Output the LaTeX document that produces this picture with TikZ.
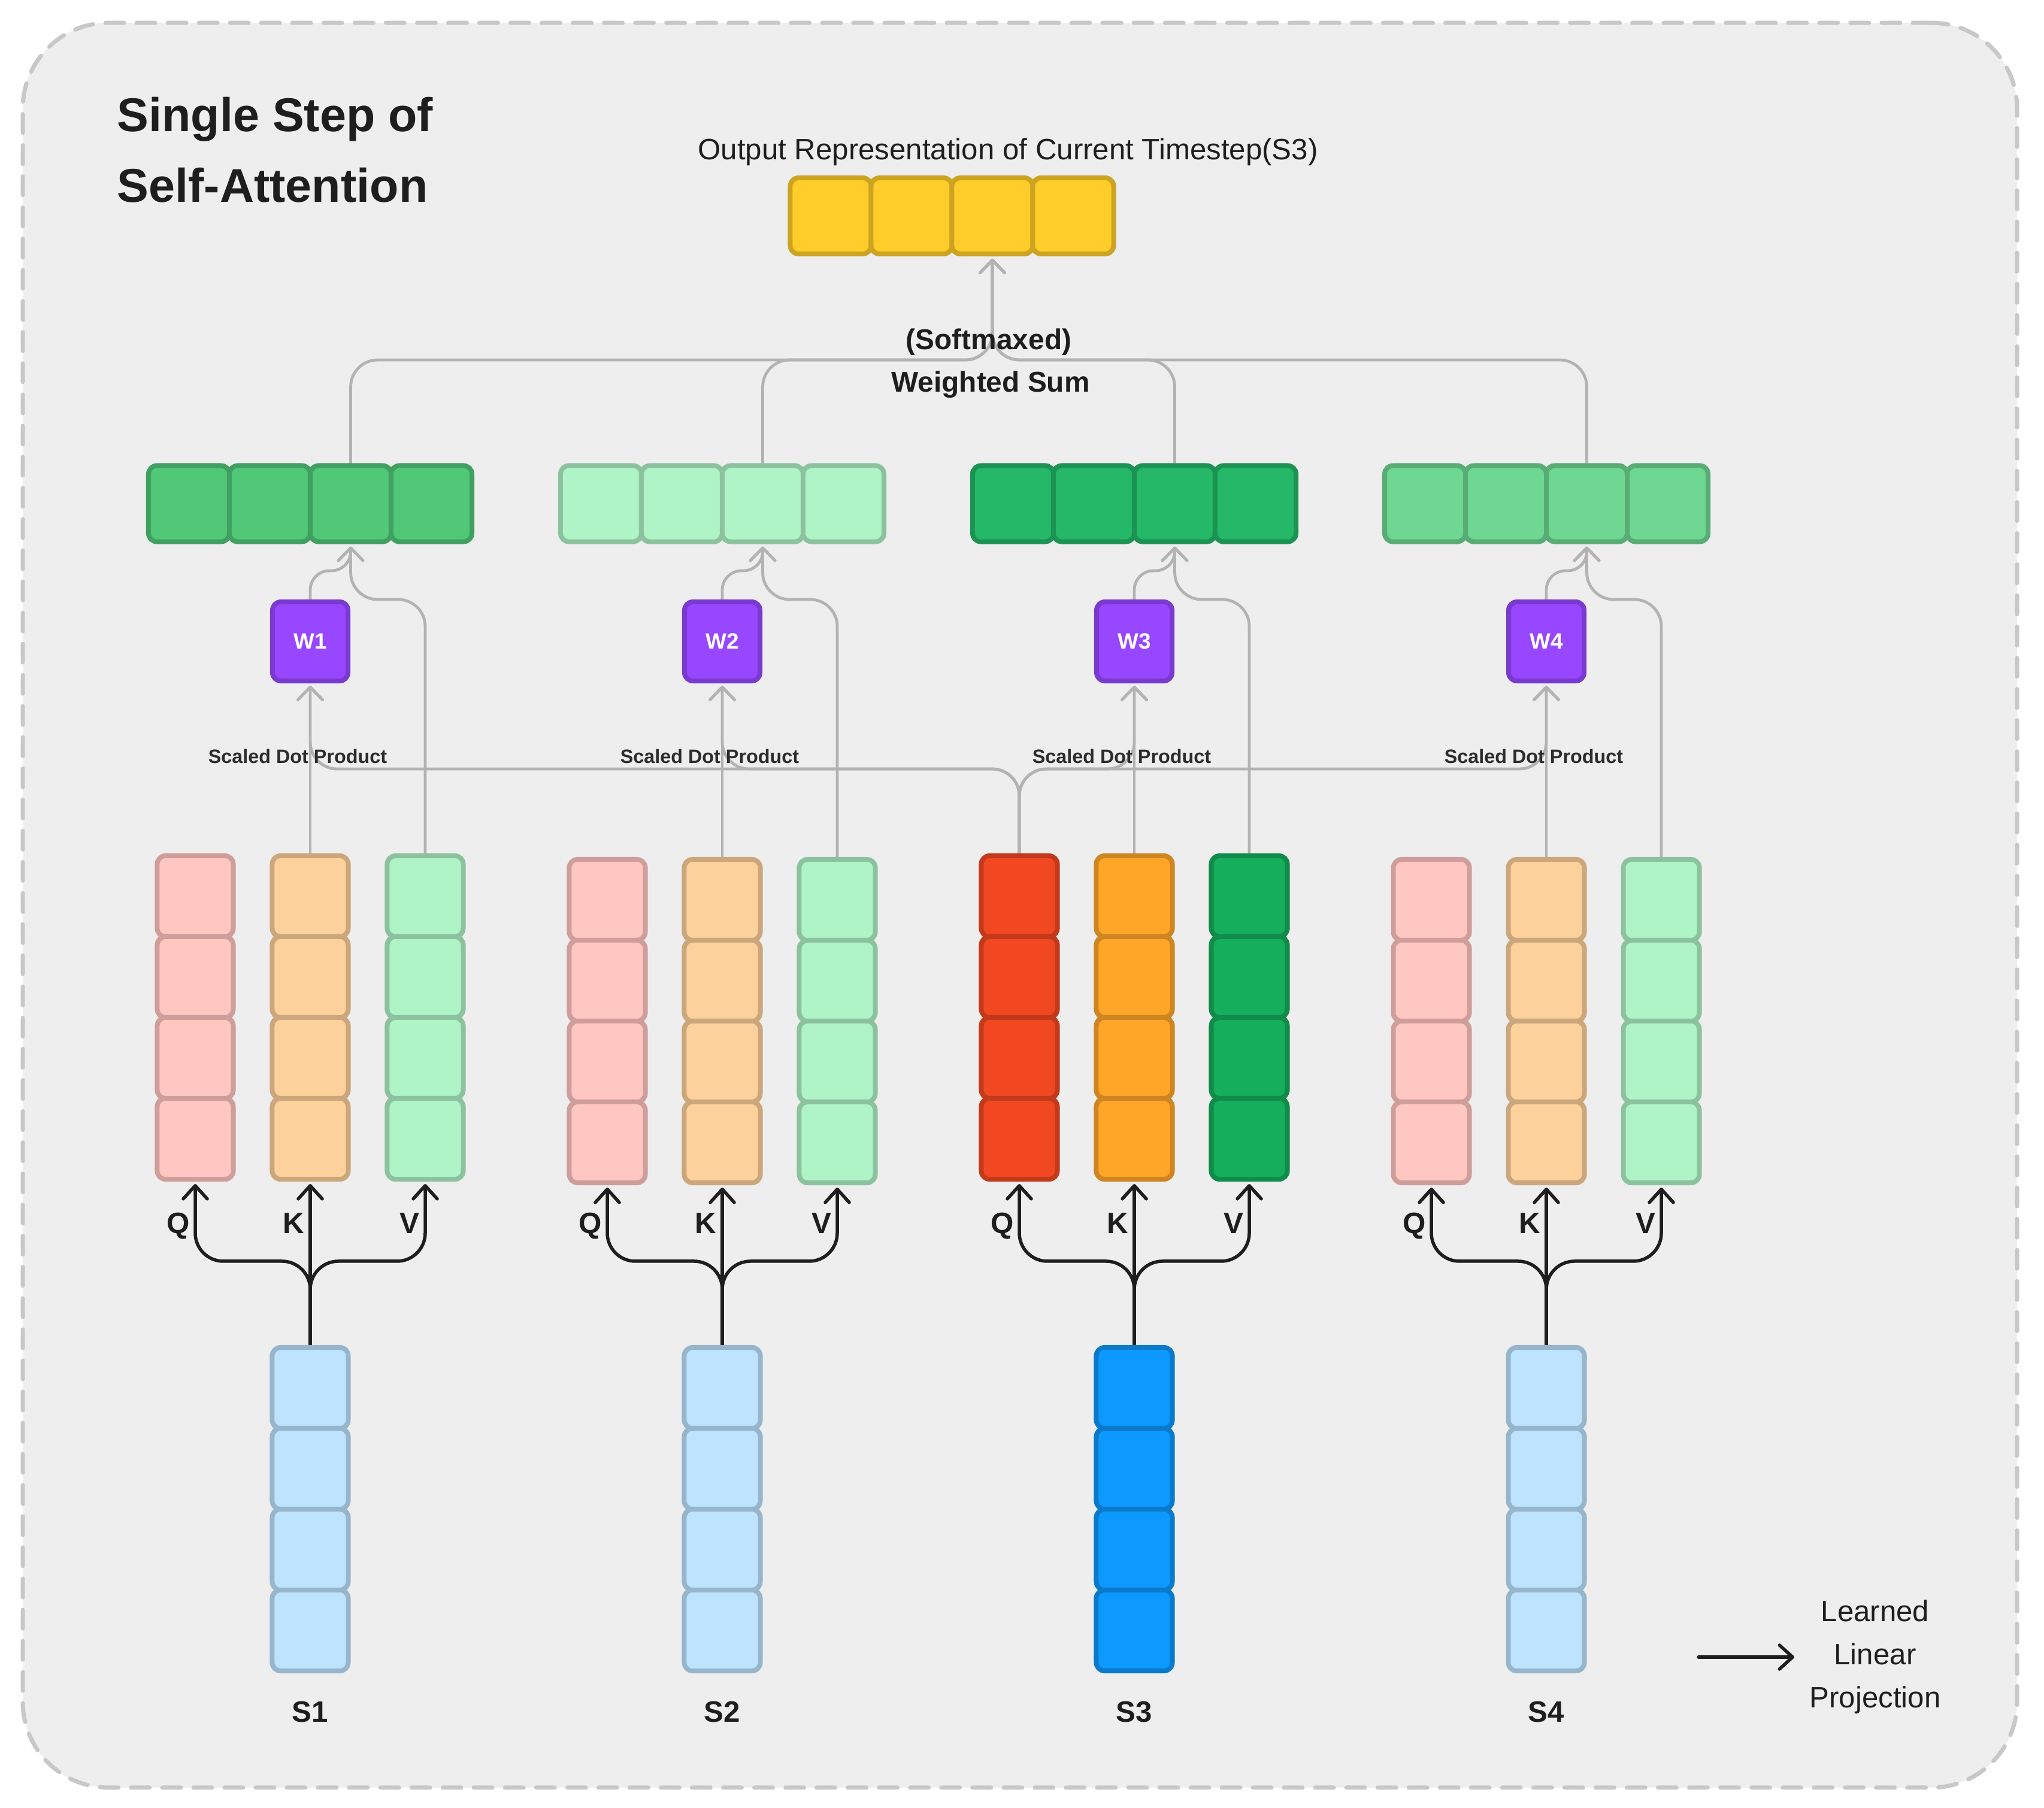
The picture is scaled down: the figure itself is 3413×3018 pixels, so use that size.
\documentclass[tikz,border=0pt]{standalone}
\usepackage{fontspec}
\setmainfont{Liberation Sans}
\usetikzlibrary{arrows.meta}
\definecolor{bgc}{HTML}{EEEEEE}
\definecolor{framec}{HTML}{C8C8C8}
\definecolor{ink}{HTML}{1E1E1E}
\definecolor{sdpc}{HTML}{2C2C2C}
\definecolor{lineg}{HTML}{B3B3B3}
\definecolor{qL}{HTML}{FFC7C2}\definecolor{sqL}{HTML}{D09E9A}
\definecolor{kL}{HTML}{FCD19C}\definecolor{skL}{HTML}{CBA77B}
\definecolor{vL}{HTML}{AFF4C6}\definecolor{svL}{HTML}{8CC39E}
\definecolor{bL}{HTML}{BDE3FF}\definecolor{sbL}{HTML}{97B6CC}
\definecolor{qD}{HTML}{F24822}\definecolor{sqD}{HTML}{C2391B}
\definecolor{kD}{HTML}{FFA629}\definecolor{skD}{HTML}{CF8521}
\definecolor{vD}{HTML}{14AE5C}\definecolor{svD}{HTML}{108B4A}
\definecolor{bD}{HTML}{0D99FF}\definecolor{sbD}{HTML}{0A7ACC}
\definecolor{rA}{HTML}{50C878}\definecolor{srA}{HTML}{40A060}
\definecolor{rB}{HTML}{AFF4C6}\definecolor{srB}{HTML}{8CC39E}
\definecolor{rC}{HTML}{24B868}\definecolor{srC}{HTML}{1D9353}
\definecolor{rD}{HTML}{6ED791}\definecolor{srD}{HTML}{58AC74}
\definecolor{wf}{HTML}{9747FF}\definecolor{ws}{HTML}{7A39CF}
\definecolor{yf}{HTML}{FFCD29}\definecolor{ys}{HTML}{CCA421}
\pgfdeclarelayer{back}
\pgfdeclarelayer{lines}
\pgfsetlayers{back,lines,main}
\tikzset{
  cellv/.style={rectangle, draw, rounded corners=0.14cm, line width=0.08cm,
    minimum width=1.27cm, minimum height=1.35cm, inner sep=0pt},
  cellh/.style={rectangle, draw, rounded corners=0.14cm, line width=0.08cm,
    minimum width=1.35cm, minimum height=1.27cm, inner sep=0pt},
  wbox/.style={rectangle, draw=ws, fill=wf, rounded corners=0.14cm, line width=0.08cm,
    minimum width=1.26cm, minimum height=1.32cm, inner sep=0pt, text=white,
    font=\fontsize{10.5}{12}\selectfont\bfseries},
  gline/.style={draw=lineg, line width=0.048cm, rounded corners=0.45cm, line cap=round,
    shorten >=0.04cm, -{Straight Barb[length=0.21cm,width=0.41cm,round]}},
  bline/.style={draw=ink, line width=0.055cm, rounded corners=0.47cm, line cap=round,
    shorten >=0.04cm, -{Straight Barb[length=0.22cm,width=0.40cm,round]}},
  frame/.style={rectangle, draw=framec, fill=bgc, line width=0.07cm, line cap=round,
    dash pattern=on 0.31cm off 0.21cm, rounded corners=1.43cm,
    minimum width=33.28cm, minimum height=29.45cm, inner sep=0pt},
  titletext/.style={inner sep=0pt, text=ink, font=\fontsize{22.5}{27}\selectfont\bfseries},
  otext/.style={inner sep=0pt, text=ink, font=\fontsize{14}{17}\selectfont},
  wstext/.style={inner sep=0pt, text=ink, font=\fontsize{13.6}{16}\selectfont\bfseries},
  sdptext/.style={inner sep=0pt, text=sdpc, font=\fontsize{9.2}{11}\selectfont\bfseries},
  labtext/.style={inner sep=0pt, text=ink, font=\fontsize{14}{17}\selectfont\bfseries},
  legtext/.style={inner sep=0pt, text=ink, align=center, font=\fontsize{14}{20.5}\selectfont},
}
\begin{document}
\begin{tikzpicture}[x=0.01cm,y=-0.01cm]
\useasboundingbox (0,0) rectangle (3413,3018);
\begin{pgfonlayer}{back}
\fill[white] (0,0) rectangle (3413,3018);
\node[frame] (frame) at (1703,1511.5) {};
\end{pgfonlayer}

% titles and texts
\node[titletext, anchor=base west] (t1) at (195,219) {Single Step of};
\node[titletext, anchor=base west] (t2) at (195,337) {Self-Attention};
\node[otext, anchor=base] (otxt) at (1683,266) {Output Representation of Current Timestep(S3)};
\node[wstext, anchor=base] (soft) at (1651,583) {(Softmaxed)};
\node[wstext, anchor=base] (wsum) at (1654,654) {Weighted Sum};

% output row
\foreach \j/\l in {0/a,1/b,2/c,3/d}
  \node[cellh, fill=yf, draw=ys] (o-\l) at ({1387+135*\j},360.5) {};

% groups
\foreach \i/\kx/\dy/\cq/\ck/\cv/\cb/\cr in
  {1/518/0/qL/kL/vL/bL/rA, 2/1206/6/qL/kL/vL/bL/rB, 3/1894/0/qD/kD/vD/bD/rC, 4/2582/6/qL/kL/vL/bL/rD}{
  \foreach \j/\l in {0/a,1/b,2/c,3/d}{
    \node[cellv, fill=\cq, draw=s\cq] (q-\i-\l) at ({\kx-192},{1496.5+\dy+135*\j}) {};
    \node[cellv, fill=\ck, draw=s\ck] (k-\i-\l) at ({\kx},{1496.5+\dy+135*\j}) {};
    \node[cellv, fill=\cv, draw=s\cv] (v-\i-\l) at ({\kx+192},{1496.5+\dy+135*\j}) {};
    \node[cellv, fill=\cb, draw=s\cb] (b-\i-\l) at ({\kx},{2317.5+135*\j}) {};
    \node[cellh, fill=\cr, draw=s\cr] (r-\i-\l) at ({\kx-202.5+135*\j},841) {};
  }
  \node[wbox] (w-\i) at ({\kx},1071) {W\i};
  \node[sdptext, anchor=base] (sdp-\i) at ({\kx-21},1274) {Scaled Dot Product};
  \node[labtext, anchor=base east] (lq-\i) at ({\kx-201},2059) {Q};
  \node[labtext, anchor=base east] (lk-\i) at ({\kx-9},2059) {K};
  \node[labtext, anchor=base east] (lv-\i) at ({\kx+183},2059) {V};
  \node[labtext, anchor=base] (s-\i) at ({\kx},2875) {S\i};
}

% helper levels
\coordinate (ysd) at (0,1284);
\coordinate (yw) at (0,953);
\coordinate (yv) at (0,1001);
\coordinate (yt) at (0,601);

\begin{pgfonlayer}{lines}
\foreach \i in {1,2,3,4}{
  \draw[bline] (b-\i-a.north) -- (k-\i-d.south);
  \draw[bline] (b-\i-a.north) -- ++(0,-140) -| (q-\i-d.south);
  \draw[bline] (b-\i-a.north) -- ++(0,-140) -| (v-\i-d.south);
  \draw[gline] (k-\i-a.north) -- (w-\i.south);
  \draw[gline] (q-3-a.north) -- (q-3-a.north |- ysd) -| (w-\i.south);
  \draw[gline, rounded corners=0.32cm] (w-\i.north) -- (w-\i.north |- yw) -| (r-\i-c.south);
  \draw[gline] (v-\i-a.north) -- (v-\i-a.north |- yv) -| (r-\i-c.south);
  \draw[gline] (r-\i-c.north) -- (r-\i-c.north |- yt) -| (o-c.south);
}
\end{pgfonlayer}

% legend
\coordinate (lg-a) at (2836,2767);
\coordinate (lg-b) at (3000,2767);
\draw[bline] (lg-a) -- (lg-b);
\node[legtext] (legend) at (3131,2767) {Learned\\Linear\\Projection};
\end{tikzpicture}
\end{document}
